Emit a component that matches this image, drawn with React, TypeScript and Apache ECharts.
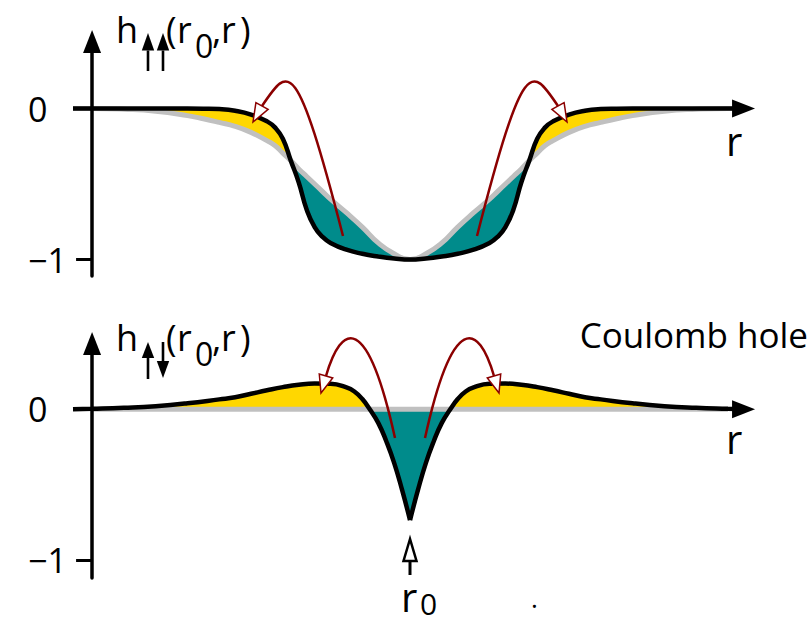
import React, { useEffect, useRef } from 'react';
import * as echarts from 'echarts';

const FONT = "'Open Sans', 'Noto Sans', 'DejaVu Sans', sans-serif";
const YELLOW = '#FFD700';
const TEAL = '#008B8B';
const GREY = '#C0C0C0';
const RED = '#8B0000';
const WHITE = '#FFFFFF';
const CLEAR = 'rgba(255,255,255,0)';

// ---------- top panel: same-spin pair (r in units, r0 = 10) ----------
const rTop = [-0.6, 0, 1, 2, 3, 3.5, 4, 4.5, 5, 5.5, 5.75, 6, 6.25, 6.5, 6.75, 7, 7.25, 7.5, 8, 8.5, 9, 9.5, 10,
  10.5, 11, 11.5, 12, 12.5, 12.75, 13, 13.25, 13.5, 13.75, 14, 14.25, 14.5, 15, 15.5, 16, 16.5, 17, 18, 19, 20, 20.49];
// black: exchange-correlation hole
const hTotal = [0, 0, 0, 0, 0, -0.001, -0.004, -0.015, -0.04, -0.085, -0.125, -0.2, -0.345, -0.49, -0.67, -0.785, -0.85, -0.89, -0.935, -0.962, -0.98, -0.993, -1.0,
  -0.993, -0.98, -0.962, -0.935, -0.89, -0.85, -0.785, -0.67, -0.49, -0.345, -0.2, -0.125, -0.085, -0.04, -0.015, -0.004, -0.001, 0, 0, 0, 0, 0];
// grey: exchange hole
const hExch = [0, 0, -0.005, -0.018, -0.047, -0.068, -0.092, -0.118, -0.158, -0.213, -0.245, -0.295, -0.345, -0.4, -0.45, -0.5, -0.55, -0.6, -0.69, -0.785, -0.89, -0.962, -1.0,
  -0.962, -0.89, -0.785, -0.69, -0.6, -0.55, -0.5, -0.45, -0.4, -0.345, -0.295, -0.245, -0.213, -0.158, -0.118, -0.092, -0.068, -0.047, -0.018, -0.005, 0, 0];
// where the two curves cross, and where the (invisible) gap ends at the tails
const topCuts = [0.5, 6.25, 13.75, 19.5];

// ---------- bottom panel: opposite-spin pair ----------
const rBotL = [-0.6, 0, 1, 2, 3, 4, 4.5, 5, 5.5, 6, 6.5, 7, 7.5, 8, 8.25, 8.5, 8.75, 9, 9.25, 9.5, 9.75, 10];
const hBotL = [0, 0.003, 0.01, 0.021, 0.04, 0.066, 0.08, 0.103, 0.126, 0.147, 0.163, 0.171, 0.169, 0.145, 0.118, 0.068, -0.005, -0.09, -0.21, -0.355, -0.535, -0.735];
const rBotR = [10, 10.25, 10.5, 10.75, 11, 11.25, 11.5, 11.75, 12, 12.5, 13, 13.5, 14, 14.5, 15, 15.5, 16, 17, 18, 19, 20, 20.49];
const hBotR = [-0.735, -0.535, -0.355, -0.21, -0.09, -0.005, 0.068, 0.118, 0.145, 0.169, 0.171, 0.163, 0.147, 0.126, 0.103, 0.08, 0.066, 0.04, 0.021, 0.01, 0.003, 0];
const rBotRef = [0, 20];
const hBotRef = [0, 0];

const yTickValues = [-1];
const yLabelValues = [-1, 0];

const pts = (xs: number[], ys: number[]) => xs.map((x, i) => [x, ys[i]]);

function hardGrad(horizontal: boolean, cuts: number[], colors: string[]) {
  const stops: { offset: number; color: string }[] = [];
  const edges = [0, ...cuts, 1];
  colors.forEach((c, i) => {
    stops.push({ offset: edges[i], color: c });
    stops.push({ offset: edges[i + 1], color: c });
  });
  return horizontal
    ? { type: 'linear', x: 0, y: 0, x2: 1, y2: 0, colorStops: stops }
    : { type: 'linear', x: 0, y: 0, x2: 0, y2: 1, colorStops: stops };
}

function headPoly(base: number[], tip: number[], hw: number) {
  const dx = tip[0] - base[0];
  const dy = tip[1] - base[1];
  const L = Math.hypot(dx, dy);
  const px = -dy / L;
  const py = dx / L;
  return [tip, [base[0] + px * hw, base[1] + py * hw], [base[0] - px * hw, base[1] - py * hw]];
}

const redArrows = [
  { p0: [343, 236], c1: [296, 54], c2: [289, 66], base: [262, 106], tip: [253, 122] },
  { p0: [477, 236], c1: [524, 54], c2: [531, 66], base: [558, 106], tip: [567, 122] },
  { p0: [395, 438], c1: [367, 311], c2: [341.4, 323.2], base: [326, 376], tip: [321, 393] },
  { p0: [425, 438], c1: [453, 311], c2: [478.6, 323.2], base: [494, 376], tip: [499, 393] },
];

function txt(text: string, x: number, y: number, size: number, align = 'left', vAlign = 'middle') {
  return {
    type: 'text', x, y, z: 100, silent: true,
    style: { text, fontSize: size, fontFamily: FONT, fill: '#000', align, verticalAlign: vAlign },
  };
}

function spinArrow(cx: number, yTip: number, yBase: number, yEnd: number) {
  return [
    { type: 'polygon', z: 100, silent: true, shape: { points: [[cx, yTip], [cx - 6.2, yBase], [cx + 6.2, yBase]] }, style: { fill: '#000' } },
    { type: 'line', z: 100, silent: true, shape: { x1: cx, y1: yBase, x2: cx, y2: yEnd }, style: { stroke: '#000', lineWidth: 2.6 } },
  ];
}

function hLabel(yMid: number, ySub: number) {
  return [
    txt('h', 116, yMid, 36),
    txt('(', 166, yMid, 36),
    txt('r', 177, yMid, 36),
    txt('0', 195, ySub, 32),
    txt(',', 212, yMid, 36),
    txt('r', 221, yMid, 36),
    txt(')', 240, yMid, 36),
  ];
}

export default function App() {
  const ref = useRef<HTMLDivElement>(null);
  useEffect(() => {
    document.body.style.margin = '0';
    const chart = echarts.init(ref.current!, undefined, { renderer: 'svg' });

    const span = rTop[rTop.length - 1] - rTop[0];
    const cuts = topCuts.map((c) => (c - rTop[0]) / span);
    const fracBot = (ys: number[]) => {
      const mx = Math.max(0, ...ys);
      const mn = Math.min(0, ...ys);
      return mx / (mx - mn);
    };

    const yAxisBase = (min: number, max: number, idx: number) => ({
      type: 'value', gridIndex: idx, min, max, z: 6,
      axisLine: { show: true, onZero: true, symbol: ['none', 'triangle'], symbolSize: [18, 23], lineStyle: { color: '#000', width: 3.5 } },
      axisTick: { show: true, customValues: yTickValues, length: 16, inside: false, lineStyle: { color: '#000', width: 3 } },
      axisLabel: {
        show: true, customValues: yLabelValues, color: '#000', fontSize: 34, fontFamily: FONT,
        align: 'left', margin: 45, formatter: (v: number) => (v < 0 ? '\u22121' : '0'),
      },
      splitLine: { show: false },
    });
    const xAxisBase = (idx: number) => ({
      type: 'value', gridIndex: idx, min: -0.6, max: 20.85, show: false,
      axisLine: { show: false, onZero: false }, splitLine: { show: false },
    });

    const area = (data: number[][], color: any, z: number, idx: number, origin: any) => ({
      type: 'line', xAxisIndex: idx, yAxisIndex: idx, data, smooth: true, symbol: 'none', silent: true,
      lineStyle: { width: 0, opacity: 0 }, areaStyle: { color, opacity: 1, origin }, z,
    });
    const curve = (data: number[][], color: string, width: number, z: number, idx: number, arrow: boolean) => ({
      type: 'line', xAxisIndex: idx, yAxisIndex: idx, data, smooth: true, symbol: 'none', silent: true,
      lineStyle: { color, width, cap: 'butt' }, z,
      markPoint: arrow
        ? {
            symbol: 'triangle', symbolSize: [18, 23], symbolRotate: -90, silent: true,
            itemStyle: { color: '#000' }, label: { show: false },
            data: [{ coord: [data[data.length - 1][0], 0] }],
          }
        : undefined,
    });

    const topT = pts(rTop, hTotal);
    const topX = pts(rTop, hExch);
    const botL = pts(rBotL, hBotL);
    const botR = pts(rBotR, hBotR);

    const graphics: any[] = [];
    // label top
    graphics.push(...hLabel(29, 45));
    graphics.push(...spinArrow(148, 33, 50.5, 71));
    graphics.push(...spinArrow(163, 33, 50.5, 71));
    // label bottom
    graphics.push(...hLabel(337, 353));
    graphics.push(...spinArrow(148, 342, 358, 379));
    graphics.push(
      { type: 'polygon', z: 100, silent: true, shape: { points: [[163, 378], [156.8, 361], [169.2, 361]] }, style: { fill: '#000' } },
      { type: 'line', z: 100, silent: true, shape: { x1: 163, y1: 342, x2: 163, y2: 361 }, style: { stroke: '#000', lineWidth: 2.6 } },
    );
    // axis names
    graphics.push(txt('r', 726, 140, 40));
    graphics.push(txt('r', 726, 438, 40));
    graphics.push(txt('Coulomb hole', 808, 334, 35, 'right'));
    graphics.push(txt('r', 401, 596, 40));
    graphics.push(txt('0', 420, 618, 30, 'left', 'bottom'));
    graphics.push(txt('.', 531, 598, 26));
    // r0 marker
    graphics.push(
      { type: 'line', z: 100, silent: true, shape: { x1: 410, y1: 561, x2: 410, y2: 575 }, style: { stroke: '#000', lineWidth: 3 } },
      { type: 'polygon', z: 101, silent: true, shape: { points: [[410, 539], [403.5, 561], [416.5, 561]] }, style: { fill: WHITE, stroke: '#000', lineWidth: 2.5 } },
    );
    // red arrows
    redArrows.forEach((a) => {
      graphics.push({
        type: 'bezierCurve', z: 100, silent: true,
        shape: { x1: a.p0[0], y1: a.p0[1], cpx1: a.c1[0], cpy1: a.c1[1], cpx2: a.c2[0], cpy2: a.c2[1], x2: a.base[0], y2: a.base[1] },
        style: { stroke: RED, lineWidth: 2.5, fill: 'none' },
      });
      graphics.push({
        type: 'polygon', z: 101, silent: true,
        shape: { points: headPoly(a.base, a.tip, 7) },
        style: { fill: WHITE, stroke: RED, lineWidth: 1.5, lineJoin: 'miter' },
      });
    });

    const option: any = {
      animation: false,
      backgroundColor: '#fff',
      grid: [
        { left: 73, right: 56, top: 41.5, height: 234.5, outerBoundsMode: 'none', containLabel: false },
        { left: 73, right: 56, top: 343.5, height: 234.5, outerBoundsMode: 'none', containLabel: false },
      ],
      xAxis: [xAxisBase(0), xAxisBase(1)],
      yAxis: [yAxisBase(-1.109, 0.4437, 0), yAxisBase(-1.119, 0.4366, 1)],
      series: [
        // top fills: yellow where black above grey, teal where below
        area(topT, hardGrad(true, cuts, [CLEAR, YELLOW, CLEAR, YELLOW, CLEAR]), 1, 0, 'start'),
        area(topX, hardGrad(true, cuts, [CLEAR, WHITE, TEAL, WHITE, CLEAR]), 2, 0, 'start'),
        area(topT, hardGrad(true, cuts, [CLEAR, CLEAR, WHITE, CLEAR, CLEAR]), 3, 0, 'start'),
        curve(topX, GREY, 5, 4, 0, false),
        curve(topT, '#000', 4.5, 5, 0, true),
        // bottom fills
        area(botL, hardGrad(false, [fracBot(hBotL)], [YELLOW, TEAL]), 1, 1, 'auto'),
        area(botR, hardGrad(false, [fracBot(hBotR)], [YELLOW, TEAL]), 1, 1, 'auto'),
        curve(pts(rBotRef, hBotRef), GREY, 5, 4, 1, false),
        curve(botL, '#000', 4.5, 5, 1, false),
        curve(botR, '#000', 4.5, 5, 1, true),
      ],
      graphic: graphics,
    };
    chart.setOption(option);
    return () => chart.dispose();
  }, []);
  return <div ref={ref} style={{ width: 811, height: 628 }} />;
}
